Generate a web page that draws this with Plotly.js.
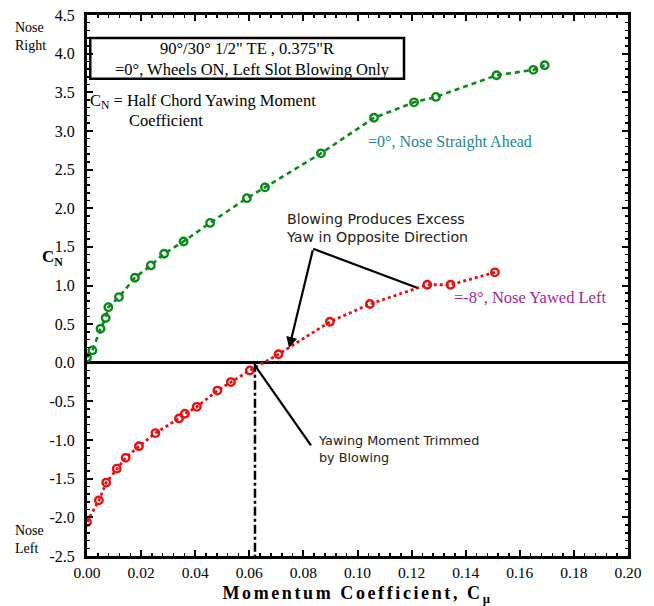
<!DOCTYPE html>
<html><head><meta charset="utf-8">
<script src="https://cdn.plot.ly/plotly-3.0.1.min.js"></script>
<style>body{margin:0;background:#fff}#chart{width:654px;height:606px}
.xtitle{letter-spacing:2.6px}</style>
</head><body><div id="chart"></div>
<script>
// Series: alpha = 0 deg, nose straight ahead
const greenX = [0.000, 0.002, 0.005, 0.0069, 0.0079, 0.0118, 0.0177, 0.0236, 0.0285, 0.0357, 0.0455, 0.0591, 0.0658, 0.0865, 0.1061, 0.1209, 0.1290, 0.1514, 0.1650, 0.1692];
const greenY = [0.07, 0.16, 0.44, 0.58, 0.72, 0.85, 1.10, 1.26, 1.41, 1.57, 1.81, 2.13, 2.27, 2.71, 3.17, 3.37, 3.44, 3.72, 3.79, 3.85];
// Series: alpha = -8 deg, nose yawed left
const redX = [0.000, 0.0044, 0.0071, 0.0110, 0.0143, 0.0192, 0.0253, 0.0340, 0.0362, 0.0406, 0.0482, 0.0532, 0.0602, 0.0708, 0.0898, 0.1046, 0.1258, 0.1344, 0.1508];
const redY = [-2.06, -1.78, -1.55, -1.37, -1.23, -1.08, -0.91, -0.72, -0.66, -0.57, -0.36, -0.25, -0.10, 0.11, 0.53, 0.76, 1.01, 1.01, 1.17];
const trimCmu = 0.0621;
const xTicks = [0, 0.02, 0.04, 0.06, 0.08, 0.10, 0.12, 0.14, 0.16, 0.18, 0.20];
const xTickText = ['0.00','0.02','0.04','0.06','0.08','0.10','0.12','0.14','0.16','0.18','0.20'];
const yTicks = [-2.5, -2.0, -1.5, -1.0, -0.5, 0.0, 0.5, 1.0, 1.5, 2.0, 2.5, 3.0, 3.5, 4.0, 4.5];
const yTickText = yTicks.map(v => v.toFixed(1));

const serif = 'Liberation Serif, Times New Roman, serif';
const sans = 'DejaVu Sans, Verdana, sans-serif';

const traces = [
  {x: greenX, y: greenY, type: 'scatter', mode: 'lines+markers',
   line: {color: '#0a8a1a', width: 2.6, dash: '5px,4px'},
   marker: {symbol: 'circle-open', size: 7.5, color: '#0a8a1a', line: {width: 2.4, color: '#0a8a1a'}}},
  {x: redX, y: redY, type: 'scatter', mode: 'lines+markers',
   line: {color: '#e81010', width: 2.8, dash: 'dot'},
   marker: {symbol: 'circle-open', size: 7.5, color: '#e81010', line: {width: 2.4, color: '#e81010'}}}
];

const layout = {
  width: 654, height: 606,
  margin: {l: 87, r: 26, t: 15, b: 50},
  paper_bgcolor: '#fff', plot_bgcolor: '#fff',
  showlegend: false,
  font: {family: serif, size: 15, color: '#000'},
  xaxis: {
    range: [0, 0.2], tickvals: xTicks, ticktext: xTickText,
    showgrid: false, zeroline: false,
    showline: true, linewidth: 3, linecolor: '#000', mirror: 'allticks',
    ticks: 'inside', ticklen: 6, tickwidth: 2, tickcolor: '#000',
    minor: {dtick: 0.004, ticks: 'inside', ticklen: 3, tickwidth: 1.5, tickcolor: '#000'},
    tickfont: {family: serif, size: 15.5},
    title: {text: '<b>Momentum Coefficient, C<sub>µ</sub></b>', font: {family: serif, size: 18}, standoff: 9}
  },
  yaxis: {
    range: [-2.5, 4.5], tickvals: yTicks, ticktext: yTickText,
    showgrid: false, zeroline: true, zerolinewidth: 3, zerolinecolor: '#000',
    showline: true, linewidth: 3, linecolor: '#000', mirror: 'allticks',
    ticks: 'inside', ticklen: 6, tickwidth: 2, tickcolor: '#000',
    ticklabelstandoff: 6,
    minor: {dtick: 0.1, ticks: 'inside', ticklen: 3, tickwidth: 1.5, tickcolor: '#000'},
    tickfont: {family: serif, size: 16}
  },
  shapes: [
    {type: 'rect', xref: 'x', yref: 'y', x0: 0.0012, x1: 0.1172, y0: 3.674, y1: 4.204,
     line: {color: '#000', width: 2.5}, fillcolor: 'rgba(255,255,255,0)'},
    {type: 'line', xref: 'x', yref: 'y', x0: trimCmu, x1: trimCmu, y0: 0, y1: -2.5,
     line: {color: '#000', width: 2.5, dash: 'dashdot'}},
    {type: 'line', xref: 'x', yref: 'y', x0: 0.0836, y0: 1.475, x1: 0.1220, y1: 0.97,
     line: {color: '#000', width: 2.2}},
    {type: 'line', xref: 'x', yref: 'y', x0: 0.0622, y0: -0.04, x1: 0.0828, y1: -1.07,
     line: {color: '#000', width: 2.2}}
  ],
  annotations: [
    {xref: 'x', yref: 'y', x: 0.0591, y: 4.065, text: '90°/30° 1/2" TE , 0.375"R', showarrow: false,
     font: {family: serif, size: 16.5}, xanchor: 'center', yanchor: 'middle'},
    {xref: 'x', yref: 'y', x: 0.0613, y: 3.795, text: '=0°, Wheels ON, Left Slot Blowing Only', showarrow: false,
     font: {family: serif, size: 16.5}, xanchor: 'center', yanchor: 'middle'},
    {xref: 'x', yref: 'y', x: 0.0003, y: 3.39, text: 'C<sub>N</sub> = Half Chord Yawing Moment', showarrow: false,
     font: {family: serif, size: 16.5}, xanchor: 'left', yanchor: 'middle'},
    {xref: 'x', yref: 'y', x: 0.0148, y: 3.14, text: 'Coefficient', showarrow: false,
     font: {family: serif, size: 16.5}, xanchor: 'left', yanchor: 'middle'},
    {xref: 'x', yref: 'y', x: 0.1030, y: 2.86, text: '=0°, Nose Straight Ahead', showarrow: false,
     font: {family: serif, size: 16, color: '#24878a'}, xanchor: 'left', yanchor: 'middle'},
    {xref: 'x', yref: 'y', x: 0.1350, y: 0.84, text: '=-8°, Nose Yawed Left', showarrow: false,
     font: {family: serif, size: 16.5, color: '#a02a98'}, xanchor: 'left', yanchor: 'middle'},
    {xref: 'x', yref: 'y', x: 0.0728, y: 1.74, text: 'Blowing Produces Excess<br>Yaw in Opposite Direction', showarrow: false,
     font: {family: sans, size: 14.2, color: '#222'}, xanchor: 'left', yanchor: 'middle', align: 'left'},
    {xref: 'x', yref: 'y', x: 0.0747, y: 0.19, ax: 0.0836, ay: 1.475, axref: 'x', ayref: 'y',
     text: '', showarrow: true, arrowhead: 2, arrowsize: 1, arrowwidth: 2.2, arrowcolor: '#000'},
    {xref: 'x', yref: 'y', x: 0.0845, y: -1.11, text: 'Yawing Moment Trimmed<br>by Blowing', showarrow: false,
     font: {family: sans, size: 12.8, color: '#222'}, xanchor: 'left', yanchor: 'middle', align: 'left'},
    {xref: 'paper', yref: 'paper', x: -0.063, y: 0.551, text: '<b>C<sub>N</sub></b>', showarrow: false,
     font: {family: serif, size: 17}, xanchor: 'center', yanchor: 'middle'},
    {xref: 'paper', yref: 'paper', x: -0.137, y: 0.960, text: 'Nose<br>Right', showarrow: false,
     font: {family: serif, size: 14}, xanchor: 'left', yanchor: 'middle', align: 'left'},
    {xref: 'paper', yref: 'paper', x: -0.137, y: 0.030, text: 'Nose<br>Left', showarrow: false,
     font: {family: serif, size: 14}, xanchor: 'left', yanchor: 'middle', align: 'left'}
  ]
};

Plotly.newPlot('chart', traces, layout, {displayModeBar: false, staticPlot: true});
</script>
</body></html>
